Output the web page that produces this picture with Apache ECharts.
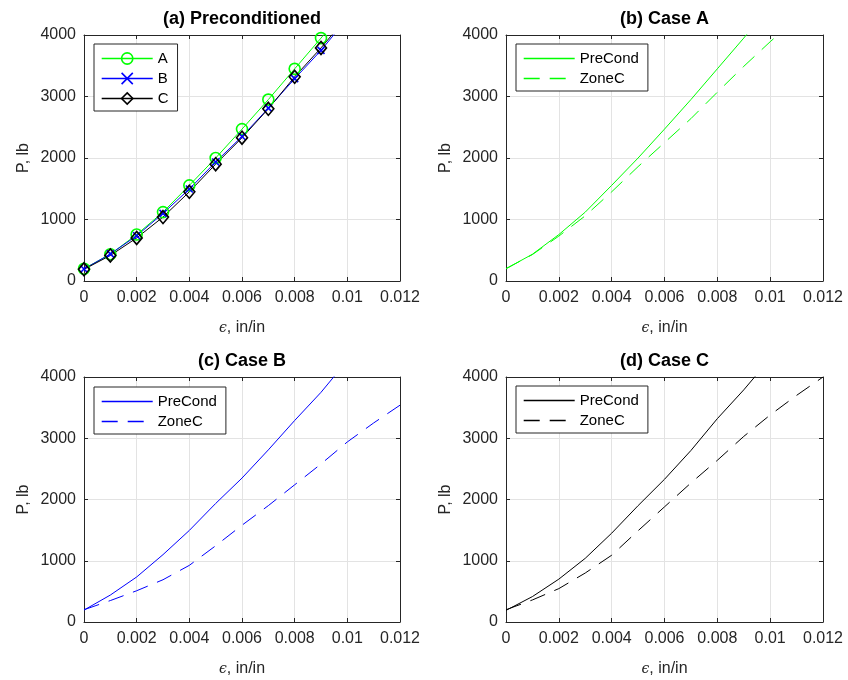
<!DOCTYPE html>
<html>
<head>
<meta charset="utf-8">
<script src="https://cdn.jsdelivr.net/npm/echarts@6.0.0/dist/echarts.min.js"></script>
<style>
  html, body { margin: 0; padding: 0; background: #fff; }
  #chart { width: 848px; height: 680px; }
</style>
</head>
<body>
<div id="chart"></div>
<script>
// Strain samples (in/in)
const strain = [0, 0.001, 0.002, 0.003, 0.004, 0.005, 0.006, 0.007, 0.008, 0.009, 0.010, 0.011, 0.012];

// Load P (lb) of preconditioned specimens A, B, C
const preA = [200, 435, 755, 1120, 1555, 2000, 2470, 2950, 3450, 3950, 4470];
const preB = [195, 440, 735, 1100, 1495, 1935, 2350, 2810, 3290, 3750, 4270];
const preC = [190, 415, 700, 1040, 1450, 1900, 2330, 2800, 3320, 3790, 4300];

// Load P (lb) measured in zone C
const zoneA = [200, 430, 730, 1060, 1450, 1860, 2250, 2640, 3070, 3490, 3890, 4270];
const zoneB = [200, 350, 510, 690, 925, 1245, 1580, 1900, 2240, 2580, 2940, 3250, 3540];
const zoneC = [200, 360, 545, 800, 1090, 1490, 1880, 2270, 2640, 3030, 3380, 3700, 4000];

// Tick labels
const xTickLabels = ['0', '0.002', '0.004', '0.006', '0.008', '0.01', '0.012'];
const yTickLabels = ['0', '1000', '2000', '3000', '4000'];

const panelTitles = ['(a) Preconditioned', '(b) Case A', '(c) Case B', '(d) Case C'];
const caseNames = ['A', 'B', 'C'];
const caseColors = ['#00ff00', '#0000ff', '#000000'];

const FONT = '"Liberation Sans", Arial, Helvetica, sans-serif';
const AXIS_COLOR = '#262626';
const GRID_COLOR = '#e3e3e3';
const DASH = [16, 10];
const X_STEP = 0.002, X_MAX = 0.012, Y_STEP = 1000, Y_MAX = 4000;

// Plot-area boxes of the four panels
const boxes = [
  { left: 84,  top: 35,  width: 316, height: 246 },
  { left: 506, top: 35,  width: 317, height: 246 },
  { left: 84,  top: 377, width: 316, height: 245 },
  { left: 506, top: 377, width: 317, height: 245 }
];

function pairs(values) {
  return values.map((v, i) => [strain[i], v]);
}

const xAxes = [], yAxes = [];
boxes.forEach((b, g) => {
  const line = () => ({ show: true, onZero: false, lineStyle: { color: AXIS_COLOR, width: 1 } });
  const tick = () => ({ show: true, inside: true, length: 4, lineStyle: { color: AXIS_COLOR, width: 1 } });
  xAxes.push({
    gridIndex: g, type: 'value', position: 'bottom', min: 0, max: X_MAX, interval: X_STEP,
    axisLine: line(), axisTick: tick(),
    axisLabel: {
      margin: 9, fontSize: 16, color: AXIS_COLOR, fontFamily: FONT,
      formatter: v => xTickLabels[Math.round(v / X_STEP)]
    },
    splitLine: { show: true, lineStyle: { color: GRID_COLOR, width: 1 } },
    name: '{e|ϵ}, in/in', nameLocation: 'middle', nameGap: 39,
    nameTextStyle: {
      fontSize: 16, color: AXIS_COLOR, fontFamily: FONT,
      rich: { e: { fontFamily: '"DejaVu Serif", serif', fontStyle: 'italic', fontSize: 14, color: AXIS_COLOR } }
    }
  });
  xAxes.push({
    gridIndex: g, type: 'value', position: 'top', min: 0, max: X_MAX, interval: X_STEP,
    axisLine: line(), axisTick: tick(), axisLabel: { show: false }, splitLine: { show: false }
  });
  yAxes.push({
    gridIndex: g, type: 'value', position: 'left', min: 0, max: Y_MAX, interval: Y_STEP,
    axisLine: line(), axisTick: tick(),
    axisLabel: {
      margin: 8, fontSize: 16, color: AXIS_COLOR, fontFamily: FONT,
      formatter: v => yTickLabels[Math.round(v / Y_STEP)]
    },
    splitLine: { show: true, lineStyle: { color: GRID_COLOR, width: 1 } },
    name: 'P, lb', nameLocation: 'middle', nameGap: 52,
    nameTextStyle: { fontSize: 16, color: AXIS_COLOR, fontFamily: FONT }
  });
  yAxes.push({
    gridIndex: g, type: 'value', position: 'right', min: 0, max: Y_MAX, interval: Y_STEP,
    axisLine: line(), axisTick: tick(), axisLabel: { show: false }, splitLine: { show: false }
  });
});

const series = [];
const legends = [];
function legendBox(extra) {
  return Object.assign({
    orient: 'vertical', itemWidth: 51, itemHeight: 14, itemGap: 5,
    padding: [7, 9, 5, 7], borderColor: AXIS_COLOR, borderWidth: 1, borderRadius: 0,
    backgroundColor: '#fff', selectedMode: false, z: 10,
    textStyle: { fontSize: 15, color: '#000', fontFamily: FONT }
  }, extra);
}

// (a) all three preconditioned curves with markers
const preSets = [preA, preB, preC];
const markers = [
  { symbol: 'circle', symbolSize: 11 },
  { symbol: 'path://M0,0L10,10M10,0L0,10', symbolSize: 7 },
  { symbol: 'diamond', symbolSize: [11, 13] }
];
caseNames.forEach((n, k) => {
  series.push({
    type: 'line', name: n, xAxisIndex: 0, yAxisIndex: 0,
    data: pairs(preSets[k]),
    symbol: markers[k].symbol, symbolSize: markers[k].symbolSize,
    showSymbol: true, showAllSymbol: true, clip: true,
    lineStyle: { color: caseColors[k], width: 1 },
    itemStyle: { color: 'rgba(0,0,0,0)', borderColor: caseColors[k], borderWidth: 1.6 },
    emphasis: { disabled: true }
  });
});
legends.push(legendBox({
  left: 94, top: 44,
  data: caseNames.map((n, k) => ({
    name: n,
    lineStyle: { color: caseColors[k], width: 1.4, type: 'solid' },
    itemStyle: { color: 'rgba(0,0,0,0)', borderColor: caseColors[k], borderWidth: 1.6 }
  }))
}));

// (b)-(d) preconditioned vs zone C, one case per panel
const zoneSets = [zoneA, zoneB, zoneC];
const legendPos = [{ left: 516, top: 44 }, { left: 94, top: 387 }, { left: 516, top: 386 }];
caseNames.forEach((n, k) => {
  const g = k + 1;
  const preName = 'PreCond ' + n, zoneName = 'ZoneC ' + n;
  series.push({
    type: 'line', name: preName, xAxisIndex: 2 * g, yAxisIndex: 2 * g,
    data: pairs(preSets[k]), symbol: 'none', clip: true,
    lineStyle: { color: caseColors[k], width: 1 },
    itemStyle: { color: caseColors[k] },
    emphasis: { disabled: true }
  });
  series.push({
    type: 'line', name: zoneName, xAxisIndex: 2 * g, yAxisIndex: 2 * g,
    data: pairs(zoneSets[k]), symbol: 'none', clip: true,
    lineStyle: { color: caseColors[k], width: 1, type: DASH },
    itemStyle: { color: caseColors[k] },
    emphasis: { disabled: true }
  });
  legends.push(legendBox({
    left: legendPos[k].left, top: legendPos[k].top,
    itemStyle: { color: caseColors[k], opacity: 0 },
    data: [
      { name: preName, lineStyle: { color: caseColors[k], width: 1.4, type: 'solid' } },
      { name: zoneName, lineStyle: { color: caseColors[k], width: 1.4, type: DASH } }
    ],
    formatter: name => name.split(' ')[0]
  }));
});

// Panel titles
const graphics = panelTitles.map((t, i) => ({
  type: 'text',
  x: boxes[i].left + boxes[i].width / 2,
  y: boxes[i].top - 15.5,
  style: {
    text: t, fill: '#000', fontSize: 18, fontWeight: 'bold', fontFamily: FONT,
    align: 'center', verticalAlign: 'middle', textAlign: 'center', textVerticalAlign: 'middle'
  }
}));

const chart = echarts.init(document.getElementById('chart'), null, { renderer: 'canvas' });
chart.setOption({
  animation: false,
  backgroundColor: '#fff',
  textStyle: { fontFamily: FONT },
  grid: boxes.map(b => Object.assign({ containLabel: false }, b)),
  xAxis: xAxes,
  yAxis: yAxes,
  legend: legends,
  series: series,
  graphic: graphics
});
</script>
</body>
</html>
